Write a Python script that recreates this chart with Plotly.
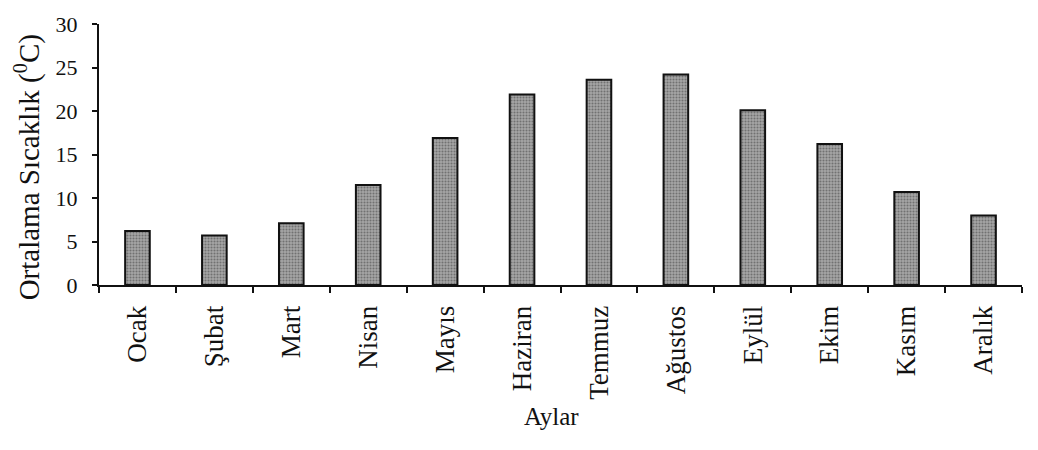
import plotly.graph_objects as go

months = ["Ocak", "Şubat", "Mart", "Nisan", "Mayıs", "Haziran",
          "Temmuz", "Ağustos", "Eylül", "Ekim", "Kasım", "Aralık"]
temps = [6.2, 5.7, 7.1, 11.5, 16.9, 21.9, 23.6, 24.2, 20.1, 16.2, 10.7, 8.0]
y_ticks = [0, 5, 10, 15, 20, 25, 30]
y_title = "Ortalama Sıcaklık (<sup>0</sup>C)"
x_title = "Aylar"

FONT = "Liberation Serif, Times New Roman, serif"

fig = go.Figure()
fig.add_trace(go.Bar(
    x=months, y=temps,
    marker=dict(
        color="#969696",
        line=dict(color="#111111", width=2),
        pattern=dict(shape=".", fgcolor="#3c3c3c", bgcolor="#a6a6a6",
                     size=3, solidity=0.4),
    ),
    showlegend=False,
))

fig.update_layout(
    width=1038, height=450,
    margin=dict(l=99, r=16, t=21, b=165),
    paper_bgcolor="white", plot_bgcolor="white",
    bargap=0.68,
    font=dict(family=FONT, color="#111111"),
    xaxis=dict(
        type="category",
        showline=True, linecolor="#111111", linewidth=2,
        ticks="outside", tickson="boundaries", ticklen=6, tickwidth=2,
        tickcolor="#111111",
        tickangle=-90, tickfont=dict(size=27, family=FONT, color="#111111"),
        ticklabelstandoff=8,
        showgrid=False, zeroline=False,
    ),
    yaxis=dict(
        range=[0, 30], tickvals=y_ticks,
        showline=True, linecolor="#111111", linewidth=2,
        ticks="outside", ticklen=5, tickwidth=2, tickcolor="#111111",
        tickfont=dict(size=22, family=FONT, color="#111111"),
        ticklabelstandoff=10,
        showgrid=False, zeroline=False,
    ),
    annotations=[
        dict(text=y_title, xref="paper", yref="paper",
             x=(27 - 99) / 923, y=(285 - 166) / 264,
             xanchor="center", yanchor="middle", textangle=-90,
             showarrow=False, font=dict(size=29, family=FONT, color="#111111")),
        dict(text=x_title, xref="paper", yref="paper",
             x=(551 - 99) / 923, y=(285 - 418) / 264,
             xanchor="center", yanchor="middle",
             showarrow=False, font=dict(size=25, family=FONT, color="#111111")),
    ],
)

fig.write_html("out.html", config={"displayModeBar": False},
               post_script="document.body.style.margin='0';")
